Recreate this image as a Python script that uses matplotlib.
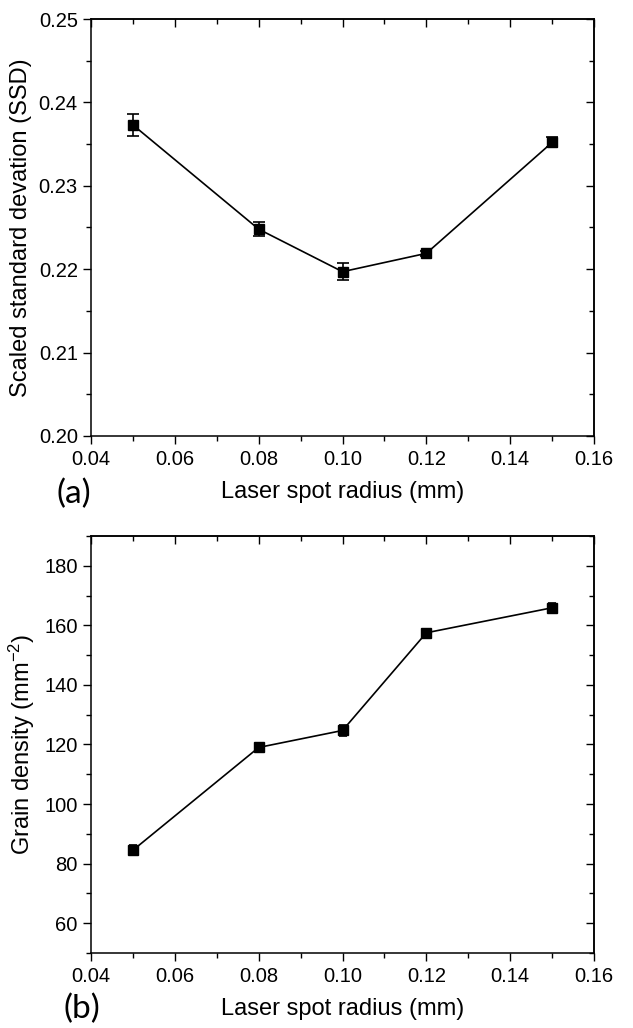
import numpy as np
import matplotlib
matplotlib.use('Agg')
import matplotlib.pyplot as plt
from matplotlib.ticker import MultipleLocator

#------------------------------
radius = [0.05, 0.08, 0.10, 0.12, 0.15]

ssd     = [0.2373, 0.2248, 0.2197, 0.2219, 0.2352]
ssd_err = [0.0013, 0.0008, 0.0010, 0.0003, 0.0006]

density     = [84.5, 119.0, 124.7, 157.5, 165.9]
density_err = [1.6, 1.6, 2.0, 1.0, 1.5]
#------------------------------

plt.rcParams['font.family'] = ['Liberation Sans', 'DejaVu Sans']
plt.rcParams['mathtext.fontset'] = 'custom'
plt.rcParams['mathtext.rm'] = 'Liberation Sans'
plt.rcParams['mathtext.it'] = 'Liberation Sans:italic'

def style_axes(ax) :
    ax.set_xlim(0.04, 0.16)
    ax.xaxis.set_major_locator(MultipleLocator(0.02))
    ax.xaxis.set_minor_locator(MultipleLocator(0.01))
    ax.xaxis.set_major_formatter(plt.FormatStrFormatter('%.2f'))
    for s in ax.spines.values() :
        s.set_linewidth(1.1)
    # left/bottom ticks out, top/right ticks in
    ax.tick_params(which='both', direction='out', top=False, right=False, labelsize=14.5, width=1.0)
    ax.tick_params(which='major', length=6)
    ax.tick_params(which='minor', length=3.5)
    ax.tick_params(axis='x', pad=4)
    tw = ax.secondary_xaxis('top')
    tw.set_xticks(np.arange(0.04, 0.161, 0.02), labels=[])
    tw.xaxis.set_minor_locator(MultipleLocator(0.01))
    tw.tick_params(which='both', direction='in', width=1.0)
    tw.tick_params(which='major', length=6)
    tw.tick_params(which='minor', length=3.5)
    tw.spines['top'].set_linewidth(1.1)
    return tw

def add_right(ax, major, minor) :
    rw = ax.secondary_yaxis('right')
    rw.yaxis.set_major_locator(MultipleLocator(major))
    rw.yaxis.set_minor_locator(MultipleLocator(minor))
    rw.set_yticklabels([])
    rw.tick_params(which='both', direction='in', width=1.0)
    rw.tick_params(which='major', length=6)
    rw.tick_params(which='minor', length=3.5)
    rw.spines['right'].set_linewidth(1.1)

fig = plt.figure(figsize=(6.33, 10.28), dpi=100)
ax1 = fig.add_axes([0.1438, 0.5759, 0.7946, 0.4056])
ax2 = fig.add_axes([0.1438, 0.0730, 0.7946, 0.4056])

# (a)
ax1.errorbar(radius, ssd, yerr=ssd_err, color='black', marker='s', ms=7.5,
             lw=1.2, capsize=4, elinewidth=1.2, capthick=1.2)
ax1.set_ylim(0.20, 0.25)
ax1.yaxis.set_major_locator(MultipleLocator(0.01))
ax1.yaxis.set_minor_locator(MultipleLocator(0.005))
ax1.yaxis.set_major_formatter(plt.FormatStrFormatter('%.2f'))
style_axes(ax1)
add_right(ax1, 0.01, 0.005)
ax1.set_xlabel('Laser spot radius (mm)', fontsize=17, labelpad=9)
ax1.set_ylabel('Scaled standard devation (SSD)', fontsize=17, labelpad=5)
fig.text(0.117, 0.520, '(a)', fontsize=24, family=['Lato', 'DejaVu Sans'],
         ha='center', va='center')

# (b)
ax2.errorbar(radius, density, yerr=density_err, color='black', marker='s', ms=7.5,
             lw=1.2, capsize=3, elinewidth=1.2, capthick=1.2)
ax2.set_ylim(50, 190)
ax2.yaxis.set_major_locator(MultipleLocator(20))
ax2.yaxis.set_minor_locator(MultipleLocator(10))
ax2.set_yticks(np.arange(60, 181, 20))
style_axes(ax2)
add_right(ax2, 20, 10)
ax2.set_xlabel('Laser spot radius (mm)', fontsize=17, labelpad=9)
ax2.set_ylabel('Grain density (mm$^{\\mathregular{-2}}$)', fontsize=17, labelpad=5)
fig.text(0.130, 0.0185, '(b)', fontsize=24, family=['Lato', 'DejaVu Sans'],
         ha='center', va='center')

fig.savefig('out.png', dpi=100)
